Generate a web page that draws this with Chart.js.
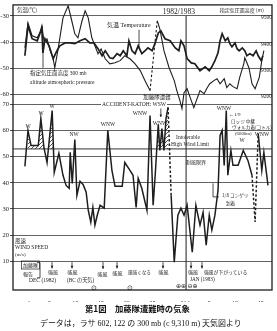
<!DOCTYPE html>
<html><head><meta charset="utf-8">
<script src="https://cdn.jsdelivr.net/npm/chart.js@4"></script>
<style>html,body{margin:0;padding:0;background:#fff;}canvas{display:block;}</style>
</head><body>
<canvas id="c" width="277" height="331"></canvas>
<script>
// ---- axis ticks ----
const dayTicks = [1, 5, 10, 15, 20, 25, 31, 32, 36, 41, 46];
const dayTickLabels = ['1', '5', '10', '15', '20', '25', '31', '1', '5', '10', '15'];
const tempTicks = [-30, -40, -50, -60];
const windTicks = [70, 60, 50, 40, 30, 20, 10];
const heightTicks = [9500, 9400, 9300, 9200];

// ---- series (day counted from 1 Dec 1982; 32 = 1 Jan 1983) ----
const tempDays = [0.2,0.8,1.6,2.6,3.1,3.5,3.7,4.1,4.9,5.7,6.4,7.0,8.0,9.0,9.9,10.9,11.9,12.8,13.6,14.4,15.2,15.8,16.7,17.3,18.1,18.7,19.3,20.0,20.4,21.0,21.6,22.2,22.9,23.5,24.1,24.9,25.5,26.1,26.6,27.4,28.4,29.4,30.1,30.5,31.1,31.7,32.5,33.2,34.2,35.2,36.0,36.5,37.1,37.7,38.1,38.5,39.1,39.6,40.0,40.4,41.0,41.4,41.8,42.4,42.9,43.3,43.9,44.5,45.1,45.5,46.1,46.4];
const tempC = [-45.2,-33.8,-38.7,-39.5,-36.8,-34.9,-44.1,-38.7,-41.4,-46.3,-43.3,-41.4,-40.3,-40.3,-40.6,-39.5,-38.7,-40.3,-40.3,-42.5,-45.2,-43.3,-46.0,-46.3,-44.4,-45.2,-43.3,-45.2,-39.5,-43.3,-44.4,-41.4,-44.4,-43.3,-42.2,-43.3,-40.3,-36.5,-35.7,-38.7,-39.5,-42.2,-43.3,-39.5,-41.4,-46.3,-47.9,-48.2,-50.9,-49.4,-50.9,-49.4,-47.1,-44.1,-39.5,-36.8,-39.5,-38.4,-40.6,-41.8,-40.3,-42.5,-43.3,-42.2,-43.3,-45.2,-44.4,-45.2,-43.3,-45.2,-47.1,-45.2];

const heightDays = [0.2,0.8,1.6,2.6,3.1,3.5,3.9,4.5,5.1,5.7,6.0,6.6,7.6,8.6,9.3,9.9,10.5,11.3,11.9,12.5,13.2,13.8,14.4,15.0,15.8,16.7,17.7,18.7,19.6,20.6,21.6,22.6,23.5,24.5,25.9,26.4,27.2,28.2,29.2,29.7,30.3,30.7,31.1,31.7,32.3,33.0,34.2,35.0,35.6,36.1,36.9,37.5,38.1,38.9,39.4,40.0,40.6,41.4,41.9,42.7,42.9,43.7,44.3,44.9,45.7,46.2,46.6];
const heightM = [9386,9481,9432,9424,9443,9470,9413,9420,9375,9344,9310,9375,9500,9546,9489,9439,9424,9489,9527,9500,9424,9394,9363,9382,9344,9325,9329,9337,9356,9344,9325,9299,9261,9223,9489,9458,9375,9310,9261,9223,9185,9154,9215,9230,9196,9158,9223,9211,9234,9249,9261,9268,9249,9268,9234,9249,9238,9230,9272,9325,9348,9310,9249,9230,9272,9337,9375];
const heightDashedAfter = [24.5];

const windDays = [0.2,0.8,1.4,2.8,3.3,3.9,4.5,5.5,5.9,6.8,7.6,8.2,8.8,9.0,9.4,9.9,10.3,10.9,11.5,12.1,12.5,13.0,13.4,13.8,14.2,14.8,15.6,16.3,17.1,17.7,19.1,19.6,20.6,21.2,21.8,22.2,22.9,23.9,24.5,25.1,25.5,26.1,26.4,26.8,27.2,27.6,28.0,28.6,29.2,29.9,30.5,31.1,31.7,32.7,33.4,34.2,34.8,35.4,36.0,36.5,37.1,37.7,38.1,38.5,38.9,39.3,39.6,40.2,40.6,41.6,42.6,43.5,44.3,44.9,45.5,46.2,46.6,47.4];
const windMS = [46.3,60.1,54.3,54.3,64.7,53.6,47.8,67.7,44.0,51.3,42.9,39.0,37.9,51.7,39.8,56.6,35.2,40.6,39.4,36.4,29.5,24.9,30.6,23.8,27.2,31.4,30.3,60.1,44.8,38.7,38.7,47.8,44.8,42.9,30.6,41.7,37.9,29.5,65.8,31.4,42.9,62.4,52.4,60.8,52.4,64.7,68.9,35.2,9.6,27.6,30.3,27.6,31.4,13.4,31.4,23.8,28.7,16.1,27.6,21.9,27.6,37.1,58.2,60.1,46.7,67.7,42.9,52.4,46.7,46.7,52.4,48.6,42.9,25.0,58.9,44.8,51.7,39.0];
const windDashedAfter = [28.0, 44.3, 44.9];
const windLimit = 53;
const hatchRanges = [[0.8, 5.9], [25.4, 28.1]];

// ---- helpers ----
const SERIF = '"Liberation Serif","DejaVu Serif","Noto Sans CJK JP"';
const JP = '"Noto Sans CJK JP","Liberation Serif"';
const INK = '#1e1e1e';
const pts = (xs, ys) => xs.map((x, i) => ({x, y: ys[i]}));

const canvas = document.getElementById('c');
const ctx = canvas.getContext('2d');
function makeHatch() {
  const t = document.createElement('canvas');
  t.width = 4; t.height = 4;
  const g = t.getContext('2d');
  g.strokeStyle = '#222'; g.lineWidth = 0.8;
  g.beginPath(); g.moveTo(-1, 5); g.lineTo(5, -1); g.stroke();
  return ctx.createPattern(t, 'repeat');
}
const hatch = makeHatch();

// annotations: [text, day, value, axis, size, align, family, extra]
const notes = [
  ['気温(℃)', -1.33, -27.7, 'yT', 5.5, 'left', JP],
  ['1982/1983', 30.1, -28.5, 'yT', 7.5, 'center', SERIF],
  ['指定気圧面高度 (m)', 46.6, -27.7, 'yT', 5, 'right', JP],
  ['気温 Temperature', 16.15, -33.8, 'yT', 6, 'left', SERIF],
  ['指定気圧面高度 300 mb', 1.19, -52.0, 'yT', 5.5, 'left', SERIF],
  ['altitude atmospheric pressure', 1.19, -55.4, 'yT', 5.5, 'left', SERIF],
  ['加藤隊遭難', 25.85, -60.8, 'yT', 5.5, 'center', JP],
  ['ACCIDENT-KATOH: WSW', 27.6, 70, 'yW', 5.5, 'right', SERIF, 'bg'],
  ['W', 0.81, 61.6, 'yW', 5.5, 'center', SERIF],
  ['W', 3.33, 66.6, 'yW', 5.5, 'center', SERIF],
  ['W', 5.47, 69.4, 'yW', 5.5, 'center', SERIF],
  ['NW', 9.74, 58.5, 'yW', 5.5, 'center', SERIF],
  ['WNW', 16.34, 62.4, 'yW', 5.5, 'center', SERIF],
  ['WNW', 22.55, 66.6, 'yW', 5.5, 'center', SERIF],
  ['WNW', 26.44, 62.7, 'yW', 5.5, 'center', SERIF],
  ['WNW', 38.86, 68.5, 'yW', 5.5, 'center', SERIF],
  ['W', 42.36, 56.2, 'yW', 5.5, 'center', SERIF],
  ['WNW', 46.24, 58.5, 'yW', 5.5, 'center', SERIF],
  ['Intolerable', 31.87, 57.4, 'yW', 5.5, 'center', SERIF],
  ['High Wind Limit', 32.26, 54.7, 'yW', 5.5, 'center', SERIF],
  ['耐風限界', 33.43, 47.8, 'yW', 5, 'center', JP],
  ['←1/9', 39.83, 66.2, 'yW', 5, 'left', SERIF],
  ['ロッジ 中継', 40.22, 63.5, 'yW', 4.6, 'left', JP],
  ['ヴォルカ着(コトル)', 40.42, 61.2, 'yW', 4.6, 'left', JP],
  ['(6000m)', 41.0, 58.9, 'yW', 4.8, 'left', SERIF],
  ['1/8 コンゲリ', 38.48, 35.2, 'yW', 4.6, 'left', JP],
  ['到着', 39.25, 32.2, 'yW', 4.6, 'left', JP],
  ['風速', -1.72, 17.6, 'yW', 5.5, 'left', JP],
  ['WIND SPEED', -1.72, 15.0, 'yW', 5.5, 'left', SERIF],
  ['(m/s)', -1.72, 12.3, 'yW', 5, 'left', SERIF],
  ['加藤隊', -0.17, 8.5, 'yW', 5, 'left', JP, 'box'],
  ['報告', -0.17, 5.0, 'yW', 5, 'left', JP],
  ['強風', 5.66, 5.6, 'yW', 5, 'center', JP],
  ['強風', 9.45, 5.6, 'yW', 5, 'center', JP],
  ['強風', 15.27, 5.2, 'yW', 5, 'center', JP],
  ['強風', 18.18, 5.4, 'yW', 5, 'center', JP],
  ['風強くなる', 20.22, 5.6, 'yW', 4.6, 'left', JP],
  ['強風', 27.1, 5.6, 'yW', 5, 'center', JP],
  ['強風', 32.84, 5.6, 'yW', 5, 'center', JP],
  ['強風が下がっている', 34.98, 5.6, 'yW', 4.8, 'left', JP],
  ['DEC (1982)', 1.0, 2.4, 'yW', 5.5, 'left', SERIF],
  ['(BC の天気)', 8.38, 2.4, 'yW', 5.2, 'left', SERIF],
  ['JAN (1983)', 32.26, 2.8, 'yW', 5.2, 'left', SERIF],
  ['⊙', 13.62, -0.3, 'yW', 7, 'center', '"DejaVu Sans"'],
  ['⊙', 20.61, -0.3, 'yW', 7, 'center', '"DejaVu Sans"'],
  ['⊕⊕', 30.51, 0.1, 'yW', 6, 'center', '"DejaVu Sans"'],
  ['⊖⊕', 32.75, 0.1, 'yW', 6, 'center', '"DejaVu Sans"']
];
// pointer lines: axis, points [day, value], arrow head at end
const pointers = [
  {ax: 'yT', p: [[22.36, -35.3], [22.36, -42.5]]},
  {ax: 'yT', p: [[3.72, -49.8], [3.72, -41.6]], head: true},
  {ax: 'yW', p: [[26.6, 68.6], [26.6, 65.2]], head: true},
  {ax: 'yW', p: [[36.73, 39.8], [36.73, 34.6], [37.9, 34.6]]},
  {ax: 'yW', p: [[2.55, 9.4], [3.14, 9.4], [3.14, 3.6], [2.55, 3.6]]},
  {ax: 'yW', p: [[5.47, 9.6], [5.47, 7.2]], head: true},
  {ax: 'yW', p: [[9.35, 9.6], [9.35, 7.2]], head: true},
  {ax: 'yW', p: [[15.37, 9.6], [15.37, 7.0]], head: true},
  {ax: 'yW', p: [[18.09, 9.6], [18.09, 7.2]], head: true},
  {ax: 'yW', p: [[27.02, 9.6], [27.02, 7.2]], head: true},
  {ax: 'yW', p: [[32.46, 9.6], [32.46, 7.2]], head: true},
  {ax: 'yW', p: [[34.59, 9.6], [34.59, 7.2]], head: true}
];

const overlay = {
  id: 'overlay',
  beforeDatasetsDraw(chart) {
    const {ctx: c, chartArea: a, scales} = chart;
    c.save();
    // Dec / Jan divider
    const xd = scales.x.getPixelForValue(31.5);
    c.strokeStyle = INK; c.lineWidth = 1;
    c.beginPath(); c.moveTo(xd, scales.yT.getPixelForValue(-30)); c.lineTo(xd, a.bottom); c.stroke();
    c.restore();
  },
  afterDatasetsDraw(chart) {
    const {ctx: c, chartArea: a, scales} = chart;
    c.save();
    c.strokeStyle = INK; c.lineWidth = 1.3;
    c.strokeRect(a.left, a.top, a.right - a.left, a.bottom - a.top);
    // pointer lines
    c.lineWidth = 0.8; c.fillStyle = INK;
    for (const pl of pointers) {
      const P = pl.p.map(([d, v]) => [scales.x.getPixelForValue(d), scales[pl.ax].getPixelForValue(v)]);
      c.beginPath(); c.moveTo(P[0][0], P[0][1]);
      for (let i = 1; i < P.length; i++) c.lineTo(P[i][0], P[i][1]);
      c.stroke();
      if (pl.head) {
        const [x1, y1] = P[P.length - 2], [x2, y2] = P[P.length - 1];
        const ang = Math.atan2(y2 - y1, x2 - x1);
        c.beginPath(); c.moveTo(x2, y2);
        c.lineTo(x2 - 3 * Math.cos(ang - 0.45), y2 - 3 * Math.sin(ang - 0.45));
        c.lineTo(x2 - 3 * Math.cos(ang + 0.45), y2 - 3 * Math.sin(ang + 0.45));
        c.closePath(); c.fill();
      }
    }
    // text notes
    c.textBaseline = 'middle';
    for (const [t, d, v, ax, s, al, fam, extra] of notes) {
      const x = scales.x.getPixelForValue(d), y = scales[ax].getPixelForValue(v);
      c.font = s + 'px ' + fam;
      c.textAlign = al;
      const w = c.measureText(t).width;
      const x0 = al === 'left' ? x : al === 'right' ? x - w : x - w / 2;
      if (extra === 'bg') { c.fillStyle = '#fff'; c.fillRect(x0 - 1, y - s / 2 - 1, w + 2, s + 2); }
      if (extra === 'box') { c.lineWidth = 0.7; c.strokeRect(x0 - 1.5, y - s / 2 - 1.5, w + 3, s + 3); }
      c.fillStyle = INK;
      c.fillText(t, x, y);
    }
    c.restore();
  },
  afterDraw(chart) {
    const c = chart.ctx;
    c.save();
    c.fillStyle = '#111'; c.textBaseline = 'middle'; c.textAlign = 'left';
    const fit = (t, fam, w0, x0, y, weight) => {
      c.font = (weight || '') + ' 10px ' + fam;
      const s = 10 * w0 / c.measureText(t).width;
      c.font = (weight || '') + ' ' + s.toFixed(2) + 'px ' + fam;
      c.fillText(t, x0, y);
    };
    fit('第1図　加藤隊遭難時の気象', JP, 105, 85, 309, 'bold');
    fit('データは，ラサ 602, 122 の 300 mb (c 9,310 m) 天気図より', SERIF, 202, 40, 324);
    c.restore();
  }
};

const dashFor = (list) => (sc) => list.includes(sc.p0.parsed.x) ? [2.5, 2] : undefined;

const datasets = [
  {data: pts(tempDays, tempC), yAxisID: 'yT', borderColor: INK, borderWidth: 1.7, pointRadius: 0, tension: 0},
  {data: pts(heightDays, heightM), yAxisID: 'yH', borderColor: INK, borderWidth: 1.1, pointRadius: 0, tension: 0,
   segment: {borderDash: dashFor(heightDashedAfter)}},
  {data: pts(windDays, windMS), yAxisID: 'yW', borderColor: INK, borderWidth: 1.5, pointRadius: 0, tension: 0,
   segment: {borderDash: dashFor(windDashedAfter)}},
  {data: [{x: -2.2, y: windLimit}, {x: 48.3, y: windLimit}], yAxisID: 'yW', borderColor: '#333', borderWidth: 1, pointRadius: 0}
];
for (const [a, b] of hatchRanges) {
  datasets.push({
    data: pts(windDays, windMS).filter(p => p.x >= a && p.x <= b), yAxisID: 'yW',
    borderColor: 'rgba(0,0,0,0)', borderWidth: 0, pointRadius: 0,
    fill: {target: {value: windLimit}, above: hatch, below: 'rgba(0,0,0,0)'}
  });
}

const tickFont = {family: SERIF.replace(/"/g, ''), size: 6.5};
new Chart(ctx, {
  type: 'line',
  data: {datasets},
  options: {
    responsive: false, animation: false, devicePixelRatio: 1,
    layout: {padding: {left: 0, right: 2, top: 4, bottom: 29}},
    plugins: {legend: {display: false}, tooltip: {enabled: false}},
    scales: {
      x: {
        type: 'linear', min: -2.107, max: 48.18, position: 'bottom',
        grid: {display: false}, border: {display: false},
        afterBuildTicks: s => { s.ticks = dayTicks.map(v => ({value: v})); },
        afterFit: s => { s.height = 12; },
        ticks: {autoSkip: false, maxRotation: 0, padding: 2, color: INK,
          font: {family: 'Liberation Serif', size: 6}, callback: (v, i) => dayTickLabels[i]}
      },
      yW: {
        type: 'linear', position: 'left', stack: 'L', stackWeight: 191, weight: 0,
        min: -1.08, max: 71.91,
        afterBuildTicks: s => { s.ticks = windTicks.map(v => ({value: v})); },
        afterFit: s => { s.width = 13; },
        border: {display: false},
        grid: {color: '#3a3a3a', lineWidth: 0.8, tickLength: 3, tickColor: INK},
        ticks: {padding: 1, color: INK, font: {family: 'Liberation Serif', size: 6.5}}
      },
      yT: {
        type: 'linear', position: 'left', stack: 'L', stackWeight: 95, weight: 1,
        min: -61.9, max: -25.82,
        afterBuildTicks: s => { s.ticks = tempTicks.map(v => ({value: v})); },
        afterFit: s => { s.width = 13; },
        border: {display: false},
        grid: {color: '#3a3a3a', lineWidth: 0.8, tickLength: 3, tickColor: INK},
        ticks: {padding: 1, color: INK, font: {family: 'Liberation Serif', size: 6.5}}
      },
      yH: {
        type: 'linear', position: 'right', min: 8463.2, max: 9549.4,
        afterBuildTicks: s => { s.ticks = heightTicks.map(v => ({value: v})); },
        afterFit: s => { s.width = 3; },
        border: {display: false},
        grid: {display: false},
        ticks: {mirror: true, padding: 0, color: INK, font: {family: 'Liberation Serif', size: 5.5},
          callback: v => String(v)}
      }
    }
  },
  plugins: [overlay]
});
</script>
</body></html>
